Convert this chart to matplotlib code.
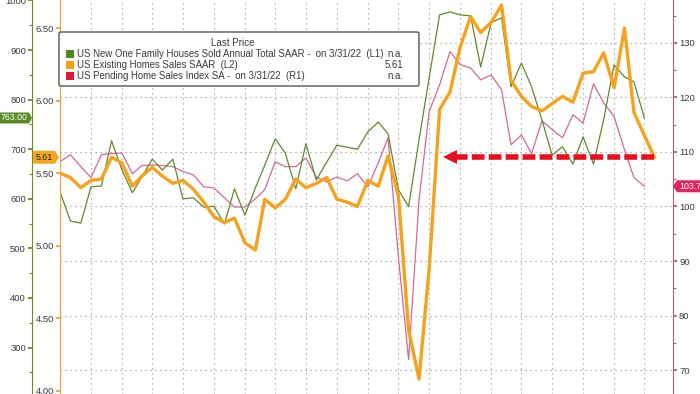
import numpy as np
import pandas as pd
import matplotlib
matplotlib.use("Agg")
import matplotlib.pyplot as plt
from matplotlib.patches import Polygon, FancyBboxPatch, Rectangle
from matplotlib.transforms import IdentityTransform
from matplotlib.ticker import MultipleLocator, FormatStrFormatter

plt.rcParams['font.family'] = ['Liberation Sans', 'DejaVu Sans']

# monthly data, Jun 2017 - Apr 2022
months = pd.date_range('2017-06-30', '2022-04-30', freq='ME')

existing_sales = [5.50, 5.47, 5.40, 5.45, 5.46, 5.61, 5.57, 5.41, 5.48, 5.54,
                  5.48, 5.43, 5.45, 5.39, 5.30, 5.20, 5.16, 5.19, 5.02, 4.97,
                  5.32, 5.26, 5.32, 5.46, 5.40, 5.43, 5.47, 5.32, 5.30, 5.27,
                  5.45, 5.41, 5.62, 5.34, 4.42, 4.08, 4.84, 5.94, 6.06, 6.37,
                  6.58, 6.47, 6.54, 6.66, 6.14, 6.03, 5.96, 5.93, 5.98, 6.03,
                  5.99, 6.19, 6.20, 6.33, 6.09, 6.50, 5.92, 5.76, 5.61]

new_home_sales = [614, 555, 551, 624, 626, 717, 658, 612, 644, 680,
                  658, 680, 600, 602, 583, 585, 549, 620, 567, 622,
                  668, 721, 692, 620, 711, 638, 674, 708, 704, 700,
                  735, 755, 731, 618, 584, 719, 844, 971, 977, 971,
                  969, 866, 955, 965, 826, 874, 826, 759, 688, 705,
                  670, 725, 670, 759, 870, 846, 836, 763]

pending_index = [108.2, 109.5, 107.3, 105.3, 109.5, 109.7, 109.8, 106.0, 107.5, 107.6,
                 107.5, 107.3, 106.4, 105.8, 103.6, 103.4, 101.6, 99.9, 99.9, 101.4,
                 103.1, 108.2, 107.3, 107.3, 108.9, 105.4, 104.5, 105.4, 104.7, 106.0,
                 103.6, 108.0, 112.6, 90.6, 71.9, 101.2, 117.4, 122.3, 128.4, 126.0,
                 125.4, 123.2, 124.1, 121.4, 111.3, 113.1, 109.7, 115.7, 114.1, 112.6,
                 116.8, 115.3, 122.5, 119.0, 116.5, 110.4, 105.3, 103.7]

legend_names = ["US New One Family Houses Sold Annual Total SAAR -  on 3/31/22  (L1)",
                "US Existing Homes Sales SAAR  (L2)",
                "US Pending Home Sales Index SA -  on 3/31/22  (R1)"]
legend_last = ["n.a.", "5.61", "n.a."]

GREEN = '#5e8a2a'
ORANGE = '#f5a21c'
PINK = '#d4679a'
RED = '#e8101f'
TXT = '#3a3a3a'
TICK_FS = 6.8

W, H = 700, 394
fig = plt.figure(figsize=(7, 3.94), dpi=100)
fig.patch.set_facecolor('white')

# plot area in pixels: x 60..673, y 0..394
ax = fig.add_axes([60 / W, 0, (673 - 60) / W, 1])
ax_l1 = ax.twinx()
ax_l2 = ax.twinx()

xmin = months[0]
xmax = months[-1] + pd.Timedelta(days=55)
ax.set_xlim(xmin, xmax)

ax.set_ylim(65.62, 137.85)
ax_l1.set_ylim(206.2, 1001.0)
ax_l2.set_ylim(3.977, 6.6945)

# right axis (R1)
for s in ['left', 'top', 'bottom']:
    ax.spines[s].set_visible(False)
ax.spines['right'].set_color('#c0587e')
ax.yaxis.tick_right()
ax.yaxis.set_major_locator(MultipleLocator(10))
ax.yaxis.set_minor_locator(MultipleLocator(5))
ax.tick_params(axis='y', which='major', direction='out', length=3.2, width=1.3,
               color='#c0587e', labelcolor=TXT, labelsize=TICK_FS, pad=1.2)
ax.tick_params(axis='y', which='minor', direction='out', length=2, width=0.8, color='#c0587e')
ax.set_xticks(months[::3])
ax.tick_params(axis='x', length=0, labelbottom=False)
ax.grid(True, which='major', color='#8c8c8c', linestyle=(0, (1, 3.5)), linewidth=0.8)
ax.set_axisbelow(True)

# left outer axis (L1)
for s in ['right', 'top', 'bottom']:
    ax_l1.spines[s].set_visible(False)
ax_l1.spines['left'].set_visible(True)
ax_l1.spines['left'].set_position(('outward', 28 * 0.72))
ax_l1.spines['left'].set_color('#6b8e23')
ax_l1.yaxis.tick_left()
ax_l1.yaxis.set_major_locator(MultipleLocator(100))
ax_l1.yaxis.set_minor_locator(MultipleLocator(50))
ax_l1.tick_params(axis='y', which='major', direction='out', length=3.2, width=1.3,
                  color='#6b8e23', labelcolor=TXT, labelsize=TICK_FS, pad=1.2)
ax_l1.tick_params(axis='y', which='minor', direction='out', length=2, width=0.8, color='#6b8e23')

# left inner axis (L2)
for s in ['right', 'top', 'bottom']:
    ax_l2.spines[s].set_visible(False)
ax_l2.spines['left'].set_visible(True)
ax_l2.spines['left'].set_color('#f2a33a')
ax_l2.yaxis.tick_left()
ax_l2.yaxis.set_major_locator(MultipleLocator(0.5))
ax_l2.yaxis.set_major_formatter(FormatStrFormatter('%.2f'))
ax_l2.tick_params(axis='y', which='major', direction='out', length=3.2, width=1.3,
                  color='#f2a33a', labelcolor=TXT, labelsize=TICK_FS, pad=1.2)

# lineas
ax.plot(months[:len(pending_index)], pending_index, color=PINK, lw=0.9)
ax_l1.plot(months[:len(new_home_sales)], new_home_sales, color=GREEN, lw=0.9)
ax_l2.plot(months, existing_sales, color=ORANGE, lw=2.4)

# flecha roja punteada
last = existing_sales[-1]
ax_l2.plot([months[-1], months[38]], [last, last], color=RED, lw=4,
           linestyle=(0, (2.3, 0.75)), solid_capstyle='butt', dash_capstyle='butt')
ax_l2.plot([months[38]], [last], marker='<', markersize=10, color=RED, markeredgewidth=0)


# etiquetas de ultimo valor
def flag(value, axis, x0, x1, tip, h, face, tcolor, label):
    y = axis.transData.transform((0, value))[1]
    if tip > x1:
        pts = [(x0, y - h / 2), (x1, y - h / 2), (tip, y), (x1, y + h / 2), (x0, y + h / 2)]
    else:
        pts = [(x1, y - h / 2), (x0, y - h / 2), (tip, y), (x0, y + h / 2), (x1, y + h / 2)]
    fig.add_artist(Polygon(pts, closed=True, facecolor=face, edgecolor='none',
                           transform=IdentityTransform(), zorder=5))
    fig.text((x0 + x1) / 2, y, label, color=tcolor, fontsize=6.3, ha='center', va='center',
             transform=IdentityTransform(), zorder=6)


flag(new_home_sales[-1], ax_l1, 0, 29, 32, 11, '#5a8a24', 'white', f'{new_home_sales[-1]:.2f}')
flag(existing_sales[-1], ax_l2, 33, 55, 59, 13, '#f5a623', '#222222', f'{existing_sales[-1]:.2f}')
flag(pending_index[-1], ax, 677, 703, 673, 12, '#e2245e', 'white', f'{pending_index[-1]:.1f}')

# leyenda
fig.add_artist(FancyBboxPatch((59, H - 86), 360, 54, boxstyle='round,pad=0,rounding_size=2',
                              facecolor='white', edgecolor='#555555', lw=1,
                              transform=IdentityTransform(), zorder=5))
fig.text(233, H - 43, "Last Price", fontsize=7.1, color=TXT, ha='center', va='center',
         transform=IdentityTransform(), zorder=6)
sq_colors = ['#4f8a1f', '#f5a10d', '#e3173e']
for k in range(3):
    yy = H - (54 + 11 * k)
    fig.add_artist(Rectangle((66, yy - 4), 8, 8, facecolor=sq_colors[k], edgecolor='none',
                             transform=IdentityTransform(), zorder=6))
    fig.text(77, yy, legend_names[k], fontsize=6.9, color=TXT, ha='left', va='center',
             transform=IdentityTransform(), zorder=6)
    fig.text(403, yy, legend_last[k], fontsize=6.9, color=TXT, ha='right', va='center',
             transform=IdentityTransform(), zorder=6)

fig.savefig('out.png', dpi=100)
